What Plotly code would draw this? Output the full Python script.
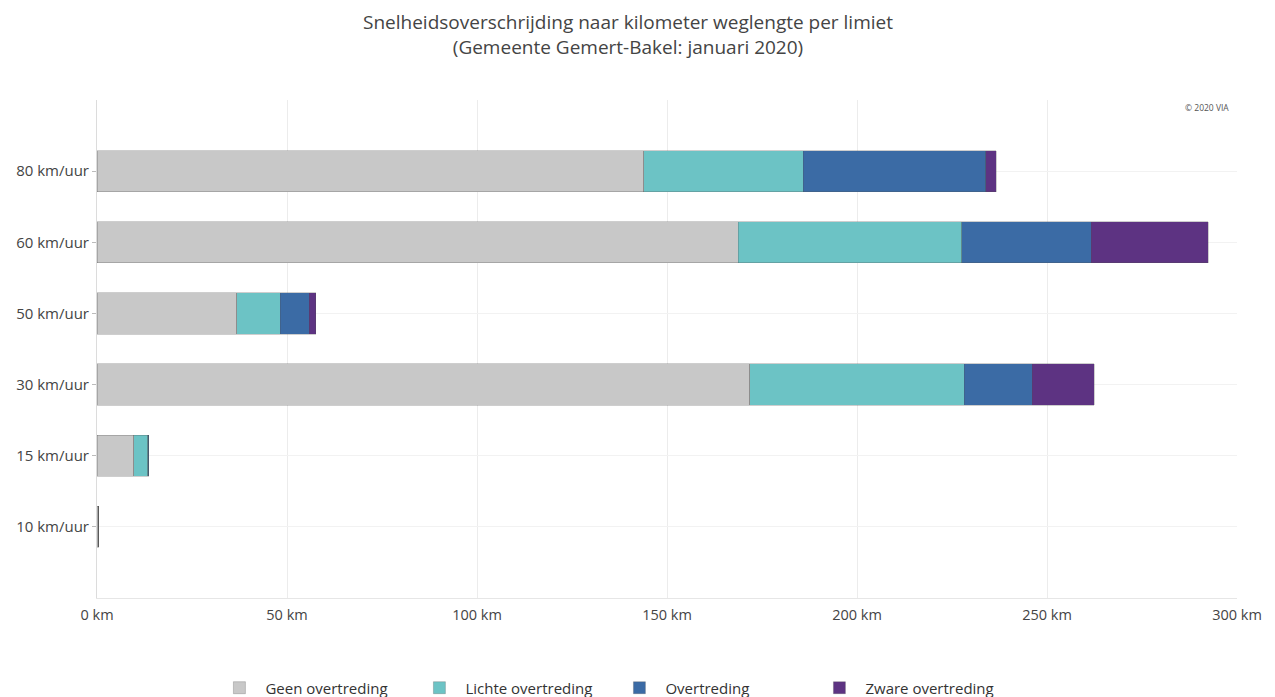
import plotly.graph_objects as go

categories = ["10 km/uur", "15 km/uur", "30 km/uur", "50 km/uur", "60 km/uur", "80 km/uur"]
geen = [0.5, 9.7, 171.8, 36.8, 168.7, 143.9]
lichte = [0, 3.6, 56.4, 11.4, 58.9, 41.9]
overtreding = [0, 0.3, 17.9, 7.6, 34.0, 48.1]
zware = [0, 0, 16.3, 1.8, 30.8, 2.7]

title_text = "Snelheidsoverschrijding naar kilometer weglengte per limiet<br>(Gemeente Gemert-Bakel: januari 2020)"

series = [
    ("Geen overtreding", geen, "#c8c8c8"),
    ("Lichte overtreding", lichte, "#6cc3c5"),
    ("Overtreding", overtreding, "#3b6ba5"),
    ("Zware overtreding", zware, "#5d3382"),
]

fig = go.Figure()
for name, vals, col in series:
    fig.add_trace(go.Bar(
        y=categories, x=vals, name=name, orientation="h",
        marker=dict(color=col, line=dict(color="rgba(80,80,80,0.35)", width=0.8)),
    ))

fig.update_layout(
    barmode="stack",
    bargap=0.42,
    width=1275, height=697,
    margin=dict(l=97, r=38, t=100, b=99, autoexpand=False),
    paper_bgcolor="white", plot_bgcolor="white",
    font=dict(family="Open Sans", color="#444", size=14),
    xaxis=dict(
        range=[0, 300], dtick=50, ticksuffix=" km",
        showgrid=True, gridcolor="#ececec", gridwidth=1,
        zeroline=False, showline=True, linecolor="#e6e6e6",
        tickfont=dict(size=14.5, color="#444"),
        ticklabelstandoff=4,
        fixedrange=True,
    ),
    yaxis=dict(
        categoryorder="array", categoryarray=categories,
        range=[-1, 6],
        showgrid=True, gridcolor="#f2f2f2",
        showline=True, linecolor="#dcdcdc",
        ticks="outside", ticklen=4, tickcolor="#bbb",
        tickfont=dict(size=15, color="#444"),
        ticklabelstandoff=0,
    ),
    legend=dict(
        orientation="h", x=0.453, xanchor="center",
        yref="container", y=0.013, yanchor="middle",
        entrywidth=143, entrywidthmode="pixels", itemwidth=42,
        font=dict(size=15, color="#333"), traceorder="normal",
    ),
    showlegend=True,
)

fig.add_annotation(
    text=title_text, xref="paper", yref="paper", x=0.466, y=1.1325,
    xanchor="center", yanchor="middle", showarrow=False,
    font=dict(size=19, color="#444"),
)

fig.add_annotation(
    text="© 2020 VIA", xref="paper", yref="paper", x=0.995, y=0.985,
    xanchor="right", yanchor="middle", showarrow=False,
    font=dict(size=8.5, color="#555"),
)

fig.write_html("out.html")
